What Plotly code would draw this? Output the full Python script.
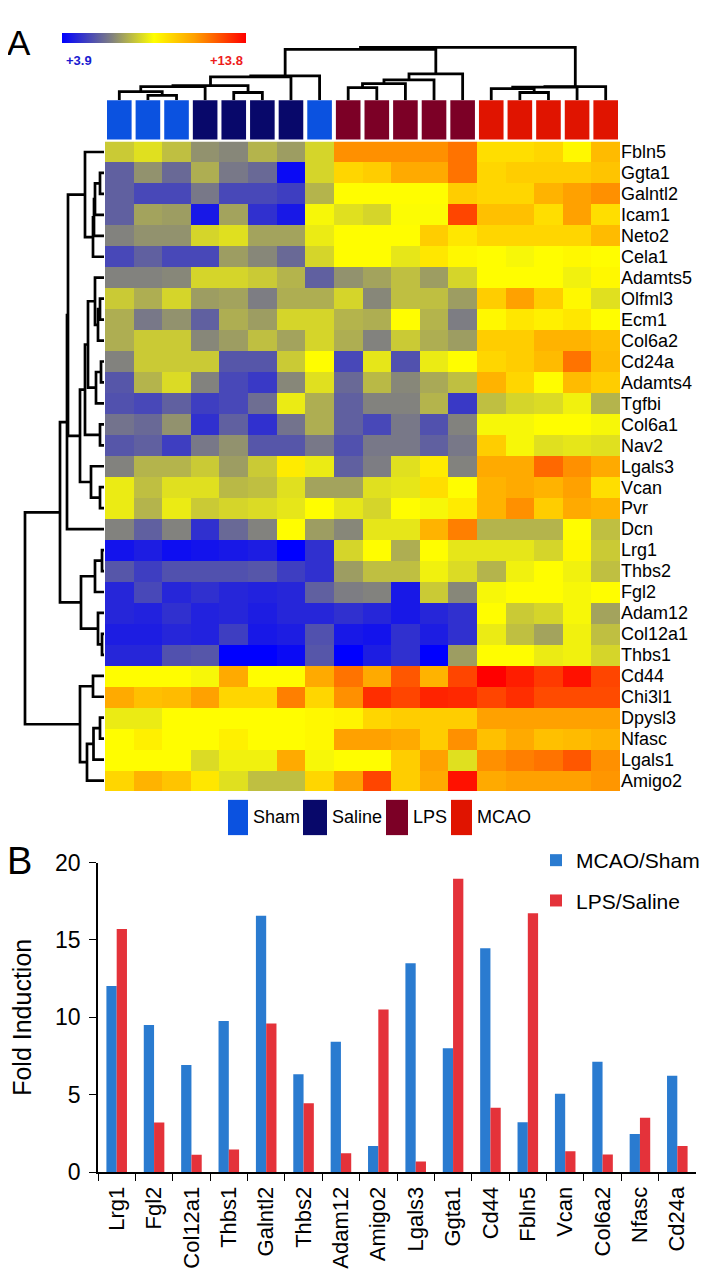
import plotly.graph_objects as go

W, H = 707, 1280
FONT = "Liberation Sans, Arial, sans-serif"

# ---------------- Panel A data ----------------
genes = ["Fbln5", "Ggta1", "Galntl2", "Icam1", "Neto2", "Cela1", "Adamts5", "Olfml3",
         "Ecm1", "Col6a2", "Cd24a", "Adamts4", "Tgfbi", "Col6a1", "Nav2", "Lgals3",
         "Vcan", "Pvr", "Dcn", "Lrg1", "Thbs2", "Fgl2", "Adam12", "Col12a1", "Thbs1",
         "Cd44", "Chi3l1", "Dpysl3", "Nfasc", "Lgals1", "Amigo2"]

sample_groups = ["Sham", "Sham", "Sham", "Saline", "Saline", "Saline", "Saline", "Sham",
                 "LPS", "LPS", "LPS", "LPS", "LPS",
                 "MCAO", "MCAO", "MCAO", "MCAO", "MCAO"]

group_names = ["Sham", "Saline", "LPS", "MCAO"]
group_colors = {"Sham": "#0b52e0", "Saline": "#08086a", "LPS": "#7c0026", "MCAO": "#e01400"}

expr_min, expr_max = 3.9, 13.8

expression = [
    [7.9, 8.3, 7.7, 6.9, 6.7, 7.5, 7.1, 8.1, 11.3, 11.3, 11.3, 11.3, 11.8, 9.6, 9.6, 9.8, 9.0, 10.4],
    [5.9, 6.9, 6.1, 7.4, 6.4, 6.1, 4.1, 8.1, 9.8, 10.0, 10.8, 10.8, 11.8, 9.8, 10.0, 10.0, 10.0, 10.2],
    [5.9, 5.4, 5.4, 6.4, 5.4, 5.4, 5.2, 7.5, 8.9, 8.9, 8.9, 8.9, 10.0, 9.8, 9.8, 10.6, 11.0, 11.3],
    [5.9, 7.2, 7.1, 4.4, 7.2, 4.9, 4.4, 8.7, 8.3, 8.1, 8.8, 8.8, 12.6, 10.3, 10.3, 9.6, 11.0, 9.6],
    [6.6, 6.9, 6.9, 8.1, 8.3, 7.2, 7.2, 8.5, 8.9, 8.9, 8.9, 10.0, 9.4, 9.8, 9.8, 9.8, 9.8, 10.4],
    [5.4, 5.9, 5.4, 5.4, 7.1, 6.7, 6.1, 8.1, 8.9, 8.9, 8.4, 9.4, 9.0, 8.9, 8.7, 8.9, 9.0, 8.9],
    [6.6, 6.6, 6.7, 8.1, 8.1, 7.9, 7.5, 5.9, 6.9, 7.2, 7.7, 7.1, 8.1, 8.9, 8.9, 8.9, 8.6, 9.0],
    [7.9, 7.4, 8.1, 7.1, 7.2, 6.5, 7.4, 7.4, 8.1, 6.7, 7.7, 7.7, 7.1, 10.0, 11.0, 10.0, 9.0, 8.3],
    [7.4, 6.4, 6.9, 5.9, 7.4, 7.1, 8.1, 8.1, 7.5, 7.4, 8.9, 7.5, 6.5, 9.0, 9.4, 9.2, 9.4, 8.9],
    [7.4, 7.9, 7.9, 6.7, 7.1, 7.7, 7.2, 8.1, 7.4, 6.6, 7.9, 7.4, 7.1, 10.0, 10.0, 10.6, 10.6, 10.3],
    [6.6, 7.9, 7.9, 7.9, 5.7, 5.7, 7.9, 8.9, 5.4, 8.4, 5.6, 8.5, 8.9, 9.8, 10.0, 10.4, 11.8, 10.4],
    [5.7, 7.5, 8.2, 6.6, 5.4, 5.1, 6.7, 8.3, 6.1, 7.6, 6.7, 7.3, 7.7, 10.6, 9.8, 8.9, 10.4, 10.0],
    [5.6, 5.4, 5.9, 5.2, 5.4, 6.2, 8.5, 7.4, 5.9, 6.6, 6.6, 7.5, 5.1, 7.7, 8.1, 8.2, 8.6, 7.5],
    [6.3, 6.1, 6.9, 4.9, 5.9, 4.9, 6.3, 7.4, 5.9, 5.4, 6.4, 5.6, 6.6, 8.7, 8.7, 8.9, 8.9, 8.7],
    [5.7, 5.9, 5.2, 6.4, 6.9, 5.7, 5.7, 6.4, 5.6, 6.4, 6.4, 5.9, 6.4, 10.0, 8.7, 8.3, 8.4, 8.3],
    [6.6, 7.5, 7.5, 7.9, 7.1, 7.9, 9.3, 8.5, 5.9, 6.5, 8.3, 9.3, 6.6, 10.8, 10.8, 12.0, 11.3, 10.8],
    [8.5, 7.7, 8.3, 8.3, 7.6, 7.7, 8.3, 7.2, 7.2, 8.3, 8.4, 9.6, 8.9, 10.6, 10.8, 10.6, 11.0, 9.6],
    [8.5, 7.5, 8.5, 7.9, 8.1, 8.2, 8.4, 8.9, 8.4, 8.1, 8.9, 8.7, 9.3, 10.6, 11.3, 10.0, 10.8, 10.6],
    [6.6, 5.9, 6.6, 4.9, 6.1, 6.6, 8.9, 7.1, 6.7, 8.4, 8.4, 10.6, 11.6, 7.5, 7.5, 7.5, 8.9, 7.7],
    [4.3, 4.5, 4.2, 4.3, 4.4, 4.5, 3.9, 4.9, 8.1, 8.9, 7.4, 8.9, 8.4, 8.4, 8.4, 8.1, 9.0, 7.9],
    [5.7, 5.2, 5.6, 5.6, 5.6, 5.7, 5.2, 4.9, 7.1, 7.7, 7.7, 8.6, 8.2, 7.5, 8.6, 8.9, 8.6, 7.7],
    [4.7, 5.4, 4.7, 4.9, 4.7, 4.6, 4.7, 5.9, 6.5, 6.6, 4.4, 7.9, 6.7, 8.7, 8.9, 8.9, 8.7, 8.9],
    [4.7, 4.6, 4.9, 4.6, 4.7, 4.5, 4.7, 4.7, 4.9, 4.7, 4.4, 4.7, 4.9, 8.9, 7.9, 8.1, 8.7, 7.2],
    [4.5, 4.5, 4.7, 4.6, 5.2, 4.4, 4.5, 5.6, 4.4, 4.3, 4.9, 4.5, 4.9, 8.5, 7.7, 7.2, 8.6, 7.7],
    [4.7, 4.7, 5.6, 5.7, 3.9, 3.9, 4.1, 5.7, 3.9, 4.5, 4.9, 3.9, 7.1, 8.9, 8.9, 8.5, 8.6, 8.1],
    [8.9, 8.9, 8.9, 8.7, 10.8, 8.9, 8.9, 10.8, 11.8, 10.8, 12.3, 10.6, 12.6, 13.8, 13.3, 12.8, 13.5, 12.6],
    [10.8, 10.3, 10.4, 11.0, 9.8, 9.8, 11.6, 9.8, 11.3, 13.0, 12.6, 13.2, 13.1, 12.6, 13.0, 12.5, 12.5, 12.5],
    [8.5, 8.5, 8.9, 8.9, 8.9, 8.9, 8.9, 9.0, 9.1, 9.8, 10.0, 10.0, 10.0, 11.0, 11.0, 11.0, 11.0, 11.0],
    [8.9, 9.2, 8.9, 8.9, 9.2, 8.9, 8.9, 9.0, 11.0, 11.0, 10.8, 10.0, 11.3, 10.3, 10.8, 10.3, 10.4, 10.6],
    [8.9, 8.9, 8.9, 8.2, 8.6, 8.6, 10.8, 8.7, 8.9, 8.9, 10.0, 11.0, 8.3, 11.3, 11.6, 11.8, 12.3, 11.3],
    [9.8, 10.6, 10.2, 9.4, 8.3, 7.7, 7.7, 9.8, 11.0, 12.6, 10.0, 10.8, 13.5, 10.8, 11.0, 11.0, 11.0, 11.2],
]

# hierarchical clustering linkages: (child_a, child_b, distance); new cluster ids continue after leaves
sample_links = [
    (1, 2, 5), (0, 18, 9), (4, 5, 8), (19, 3, 14), (21, 20, 15), (22, 6, 24), (23, 7, 25),
    (8, 9, 13), (25, 10, 17), (26, 11, 21), (27, 12, 27),
    (14, 15, 8), (13, 29, 12), (30, 16, 13.5), (31, 17, 14),
    (24, 28, 52), (33, 32, 54),
]
gene_links = [
    (1, 2, 4), (31, 3, 9), (32, 4, 10), (33, 5, 11), (0, 34, 19),
    (7, 8, 4), (36, 9, 6), (6, 37, 9), (10, 11, 3), (39, 12, 8), (13, 14, 4),
    (38, 40, 16), (42, 41, 19), (16, 17, 4), (15, 44, 13), (43, 45, 24),
    (35, 46, 36), (47, 18, 37),
    (19, 20, 2), (49, 21, 9), (23, 24, 2), (22, 51, 6), (50, 52, 23), (48, 53, 44),
    (25, 26, 11), (27, 28, 4), (56, 29, 10.5), (57, 30, 17), (55, 58, 24),
    (54, 59, 79),
]

# ---------------- Panel B data ----------------
bar_genes = ["Lrg1", "Fgl2", "Col12a1", "Thbs1", "Galntl2", "Thbs2", "Adam12", "Amigo2",
             "Lgals3", "Ggta1", "Cd44", "Fbln5", "Vcan", "Col6a2", "Nfasc", "Cd24a"]
mcao_sham = [12.03, 9.5, 6.92, 9.77, 16.56, 6.33, 8.42, 1.69, 13.5, 8.0, 14.47, 3.23, 5.06, 7.13, 2.47, 6.22]
lps_saline = [15.7, 3.2, 1.12, 1.46, 9.6, 4.45, 1.22, 10.51, 0.68, 18.95, 4.16, 16.73, 1.35, 1.14, 3.52, 1.69]
y_ticks = [0, 5, 10, 15, 20]


def px_x(x):
    return x / W


def px_y(y):
    return 1 - y / H


def dendro(links, n):
    pos = {i: float(i) for i in range(n)}
    hgt = {i: 0.0 for i in range(n)}
    p_list, h_list = [], []
    for k, (a, b, h) in enumerate(links):
        pa, pb, ha, hb = pos[a], pos[b], hgt[a], hgt[b]
        p_list += [pa, pa, pb, pb, None]
        h_list += [ha, h, h, hb, None]
        pos[n + k] = (pa + pb) / 2
        hgt[n + k] = h
    return p_list, h_list


colorscale = [[0.0, "#0000ff"], [0.27, "#808080"], [0.5, "#ffff00"], [0.72, "#ffa000"], [1.0, "#ff0000"]]

fig = go.Figure()

fig.add_trace(go.Heatmap(
    z=expression, x=list(range(len(sample_groups))), y=list(range(len(genes))),
    colorscale=colorscale, zmin=expr_min, zmax=expr_max, xaxis="x", yaxis="y",
    hoverinfo="skip",
    colorbar=dict(orientation="h", x=px_x(146), xanchor="center", y=px_y(12), yanchor="top",
                  len=184, lenmode="pixels", thickness=10, showticklabels=False, ticks="",
                  outlinewidth=0, xpad=0, ypad=0),
))

cp, ch = dendro(sample_links, len(sample_groups))
fig.add_trace(go.Scatter(x=cp, y=ch, mode="lines", line=dict(color="black", width=2.8),
                         xaxis="x2", yaxis="y2", showlegend=False, hoverinfo="skip"))
gp, gh = dendro(gene_links, len(genes))
fig.add_trace(go.Scatter(x=gh, y=gp, mode="lines", line=dict(color="black", width=2.7),
                         xaxis="x3", yaxis="y3", showlegend=False, hoverinfo="skip"))

fig.add_trace(go.Bar(x=bar_genes, y=mcao_sham, name="MCAO/Sham", marker=dict(color="#2a7bd0", line=dict(width=0)),
                     xaxis="x4", yaxis="y4", legendgroup="a"))
fig.add_trace(go.Bar(x=bar_genes, y=lps_saline, name="LPS/Saline", marker=dict(color="#e4323a", line=dict(width=0)),
                     xaxis="x4", yaxis="y4", legendgroup="b"))

shapes = []
for i, g in enumerate(sample_groups):
    shapes.append(dict(type="rect", xref="x", yref="paper", x0=i - 0.43, x1=i + 0.43,
                       y0=px_y(121), y1=px_y(81), fillcolor=group_colors[g], line=dict(width=0)))

annotations = []
leg_box_x = {"Sham": (220, 240), "Saline": (295, 319), "LPS": (378, 400), "MCAO": (443, 464)}
for g in group_names:
    x0, x1 = leg_box_x[g]
    shapes.append(dict(type="rect", xref="paper", yref="paper", x0=px_x(x0), x1=px_x(x1),
                       y0=px_y(831), y1=px_y(795), fillcolor=group_colors[g], line=dict(width=0)))
    annotations.append(dict(x=px_x(x1 + 3), y=px_y(813), xref="paper", yref="paper", text=g,
                            showarrow=False, xanchor="left", yanchor="middle",
                            font=dict(size=18, color="black", family=FONT)))

annotations += [
    dict(x=-0.004, y=px_y(0), xref="paper", yref="paper", text="A", showarrow=False,
         xanchor="left", yanchor="top", font=dict(size=35, color="black", family=FONT)),
    dict(x=-0.004, y=px_y(834), xref="paper", yref="paper", text="B", showarrow=False,
         xanchor="left", yanchor="top", font=dict(size=38, color="black", family=FONT)),
    dict(x=px_x(56), y=px_y(40), xref="paper", yref="paper", text="<b>+%.1f</b>" % expr_min,
         showarrow=False, xanchor="left", yanchor="middle", font=dict(size=13, color="#1a1ad0", family=FONT)),
    dict(x=px_x(237), y=px_y(40), xref="paper", yref="paper", text="<b>+%.1f</b>" % expr_max,
         showarrow=False, xanchor="right", yanchor="middle", font=dict(size=13, color="#ee1c1c", family=FONT)),
]

hm_y_dom = [px_y(786), px_y(123)]
hm_x_dom = [px_x(97), px_x(612)]
n_s, n_g = len(sample_groups), len(genes)

fig.update_layout(
    width=W, height=H, margin=dict(l=0, r=0, t=0, b=0),
    paper_bgcolor="white", plot_bgcolor="white",
    font=dict(family=FONT, color="black"),
    shapes=shapes, annotations=annotations,
    barmode="group", bargap=0.45, bargroupgap=0,
    showlegend=True,
    legend=dict(x=px_x(528), y=px_y(836), xanchor="left", yanchor="top",
                font=dict(size=21, family=FONT), tracegroupgap=10, bgcolor="rgba(0,0,0,0)"),
    xaxis=dict(domain=hm_x_dom, range=[-0.5, n_s - 0.5], visible=False, anchor="y"),
    yaxis=dict(domain=hm_y_dom, range=[n_g - 0.5, -0.5], side="right", anchor="x",
               tickvals=list(range(n_g)), ticktext=genes, ticks="", showgrid=False,
               zeroline=False, showline=False, tickfont=dict(size=18, family=FONT)),
    xaxis2=dict(domain=hm_x_dom, range=[-0.5, n_s - 0.5], visible=False, anchor="y2"),
    yaxis2=dict(domain=[px_y(81), 1], range=[0, 81], visible=False, anchor="x2"),
    xaxis3=dict(domain=[0, px_x(96)], range=[96, 0], visible=False, anchor="y3"),
    yaxis3=dict(domain=hm_y_dom, range=[n_g - 0.5, -0.5], visible=False, anchor="x3"),
    xaxis4=dict(domain=[px_x(90), px_x(688)], anchor="y4", type="category",
                tickangle=-90, ticks="outside", ticklen=7, tickson="boundaries",
                showline=True, linecolor="black", linewidth=1.5, tickcolor="black",
                showgrid=False, tickfont=dict(size=22, family=FONT), ticklabelstandoff=4),
    yaxis4=dict(domain=[px_y(1175), px_y(859)], anchor="x4", range=[0, 20],
                tickvals=y_ticks, ticks="outside", ticklen=7, showline=True,
                linecolor="black", linewidth=1.5, tickcolor="black", showgrid=False,
                zeroline=False, tickfont=dict(size=23, family=FONT), ticklabelstandoff=4,
                title=dict(text="Fold Induction", font=dict(size=25, family=FONT), standoff=20)),
)

fig.write_html("out.html")
